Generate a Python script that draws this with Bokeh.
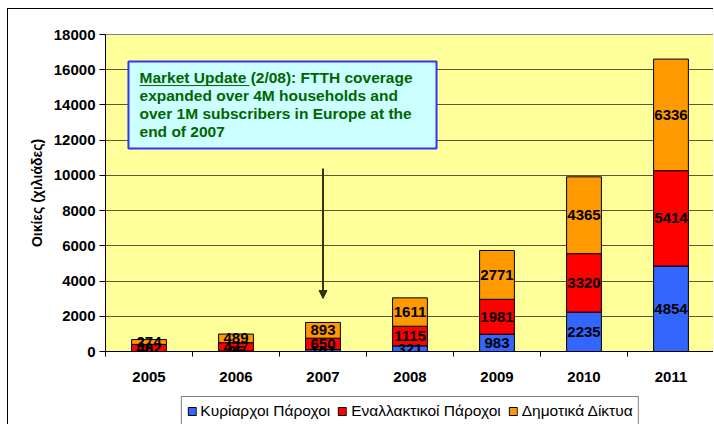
import numpy as np
from bokeh.plotting import figure
from bokeh.layouts import column
from bokeh.models import (ColumnDataSource, Range1d, FixedTicker, Legend, LegendItem,
                          Label, BoxAnnotation, Arrow, NormalHead)
from bokeh.embed import file_html
from bokeh.resources import INLINE
from bokeh.core.properties import value

# ---- data ----
years = ["2005", "2006", "2007", "2008", "2009", "2010", "2011"]
incumbents = [0, 25, 107, 321, 983, 2235, 4854]
alternatives = [402, 477, 650, 1115, 1981, 3320, 5414]
municipal = [274, 489, 893, 1611, 2771, 4365, 6336]
series_names = ["Κυρίαρχοι Πάροχοι", "Εναλλακτικοί Πάροχοι", "Δημοτικά Δίκτυα"]
series_colors = ["#3366FF", "#FF0000", "#FF9900"]
y_ticks = list(range(0, 18001, 2000))
y_title = "Οικίες (χιλιάδες)"
note_text = ("Market Update (2/08): FTTH coverage\n"
             "expanded over 4M households and\n"
             "over 1M subscribers in Europe at the\n"
             "end of 2007")

FONT = "Liberation Sans"
NUM_SIZE = "15px"

n = len(years)
xc = np.arange(n) + 0.5
src = ColumnDataSource(dict(x=xc, inc=incumbents, alt=alternatives, mun=municipal))

p = figure(width=706, height=383, x_range=Range1d(0, n), y_range=Range1d(0, 18000),
           output_backend="svg", toolbar_location=None,
           min_border_left=97, min_border_top=25, min_border_bottom=41, min_border_right=0,
           background_fill_color="#FFFF99", border_fill_color="white",
           outline_line_color="#808080")
p.styles = {"border-left": "1px solid black", "border-top": "1px solid black"}

rs = p.vbar_stack(["inc", "alt", "mun"], x="x", width=0.4, source=src,
                  fill_color=series_colors, line_color="black", line_width=1)

# data labels
inc = np.array(incumbents, float)
alt = np.array(alternatives, float)
mun = np.array(municipal, float)
lx = np.concatenate([xc, xc, xc])
ly = np.concatenate([inc / 2, inc + alt / 2, inc + alt + mun / 2])
lt = [str(v) for v in incumbents + alternatives + municipal]
p.text(x=lx, y=ly, text=lt, text_align="center", text_baseline="middle",
       text_font=value(FONT), text_font_style="bold", text_font_size=NUM_SIZE,
       text_color="black")

# axes
p.xgrid.visible = False
p.ygrid.ticker = FixedTicker(ticks=y_ticks)
p.ygrid.grid_line_color = "black"
p.ygrid.grid_line_alpha = 0.65

xa = p.xaxis[0]
xa.ticker = FixedTicker(ticks=list(xc), minor_ticks=list(range(0, n + 1)))
xa.major_label_overrides = {float(c): y for c, y in zip(xc, years)}
xa.major_tick_out = 0
xa.major_tick_in = 0
xa.minor_tick_out = 5
xa.minor_tick_in = 0
xa.axis_line_color = "black"
xa.major_label_standoff = 15
xa.major_label_text_font = FONT
xa.major_label_text_font_style = "bold"
xa.major_label_text_font_size = NUM_SIZE
xa.major_label_text_color = "black"

ya = p.yaxis[0]
ya.ticker = FixedTicker(ticks=y_ticks)
ya.major_tick_out = 6
ya.major_tick_in = 0
ya.minor_tick_line_color = None
ya.axis_line_color = "black"
ya.major_label_standoff = 4
ya.major_label_text_font = FONT
ya.major_label_text_font_style = "bold"
ya.major_label_text_font_size = NUM_SIZE
ya.major_label_text_color = "black"
ya.axis_label = y_title
ya.axis_label_text_font = FONT
ya.axis_label_text_font_style = "bold"
ya.axis_label_text_font_size = "14px"
ya.axis_label_text_color = "black"
ya.axis_label_standoff = 6

# annotation box
box = BoxAnnotation(left=0.264, right=3.805, top=16467, bottom=11527,
                    fill_color="#CCFFFF", fill_alpha=1.0, line_color="#3333FF",
                    line_width=2, line_alpha=1.0)
p.add_layout(box)
p.add_layout(Label(x=0.391, y=16069, text=note_text, text_font=FONT,
                   text_font_style="bold", text_font_size="15.5px", text_color="#006600",
                   text_align="left", text_baseline="top", text_line_height=1.06))
p.add_layout(Arrow(x_start=0.391, y_start=15100, x_end=1.655, y_end=15100,
                   start=None, end=None, line_color="#006600", line_width=1))
p.add_layout(Arrow(x_start=2.5, y_start=10391, x_end=2.5, y_end=3009,
                   end=NormalHead(size=8, fill_color="#333311", line_color="#333311"),
                   line_color="#333311", line_width=2))

# legend strip (separate figure so it sits below the axis)
p2 = figure(width=706, height=33, x_range=Range1d(0, n), y_range=Range1d(-2, -1),
            output_backend="svg", toolbar_location=None,
            min_border_left=97, min_border_top=0, min_border_bottom=0, min_border_right=0,
            x_axis_location=None, y_axis_location=None,
            background_fill_color="white", border_fill_color="white",
            outline_line_color=None)
p2.styles = {"border-left": "1px solid black"}
p2.xgrid.visible = False
p2.ygrid.visible = False
rs2 = p2.vbar_stack(["inc", "alt", "mun"], x="x", width=0.4, source=src,
                    fill_color=series_colors, line_color="black", line_width=1)
for r in rs2:
    r.visible = False
legend = Legend(items=[LegendItem(label=nm, renderers=[r]) for nm, r in zip(series_names, rs2)],
                orientation="horizontal", location="top_center", click_policy="none",
                border_line_color="black", border_line_width=1, background_fill_color="white",
                background_fill_alpha=1.0,
                label_text_font=FONT, label_text_font_size="15.5px", label_text_color="black",
                glyph_width=10, glyph_height=10, label_standoff=4, spacing=7,
                padding=5, margin=5, label_height=15)
p2.add_layout(legend, "center")

layout = column(p, p2, spacing=0)
layout.styles = {"margin-left": "7px", "margin-top": "8px"}
open("out.html", "w").write(file_html(layout, INLINE))
